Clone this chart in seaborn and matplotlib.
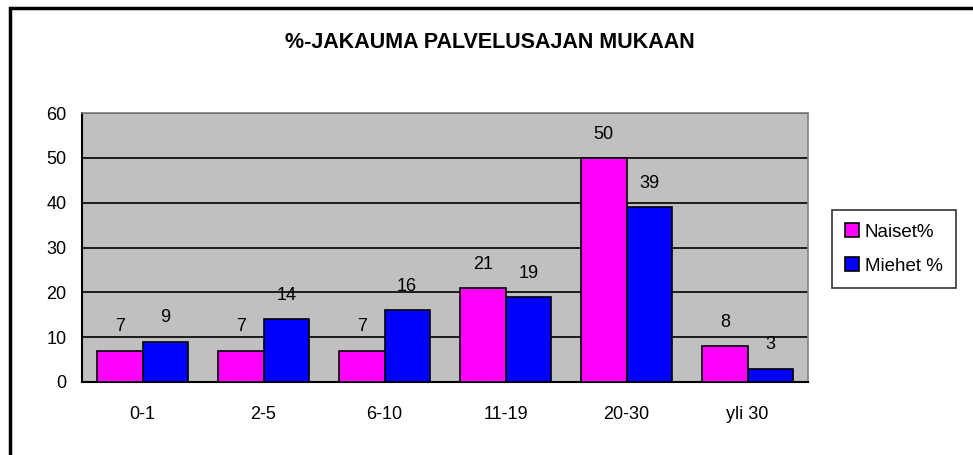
import matplotlib
matplotlib.use("Agg")
import matplotlib.pyplot as plt
import seaborn as sns
import pandas as pd
from matplotlib.patches import Rectangle

categories = ["0-1", "2-5", "6-10", "11-19", "20-30", "yli 30"]
naiset = [7, 7, 7, 21, 50, 8]
miehet = [9, 14, 16, 19, 39, 3]
series_names = ["Naiset%", "Miehet %"]
title = "%-JAKAUMA PALVELUSAJAN MUKAAN"
yticks = [0, 10, 20, 30, 40, 50, 60]

df = pd.DataFrame({
    "cat": categories * 2,
    "val": naiset + miehet,
    "series": [series_names[0]] * len(categories) + [series_names[1]] * len(categories),
})

sns.set_theme(style="white")
plt.rcParams["font.family"] = ["Liberation Sans", "DejaVu Sans"]
plt.rcParams["text.color"] = "black"
plt.rcParams["xtick.color"] = "black"
plt.rcParams["ytick.color"] = "black"

fig = plt.figure(figsize=(9.73, 4.55), dpi=100)
ax = fig.add_axes([82 / 973, 1 - 382 / 455, (808 - 82) / 973, (382 - 113) / 455])

sns.barplot(data=df, x="cat", y="val", hue="series", order=categories,
            hue_order=series_names, palette=["#ff00ff", "#0000ff"],
            width=0.75, edgecolor="black", linewidth=1.2, saturation=1,
            ax=ax, legend=True, zorder=3)

ax.set_facecolor("#c0c0c0")
ax.set_ylim(0, 60)
ax.set_xlim(-0.5, len(categories) - 0.5)
ax.set_yticks(yticks)
ax.yaxis.grid(True, color="black", linewidth=1.2, zorder=1)
ax.set_axisbelow(True)
ax.set_xlabel("")
ax.set_ylabel("")

for c in ax.containers:
    ax.bar_label(c, fmt="%d", padding=11, fontsize=13, color="black")

# category-boundary ticks
ax.set_xticks([i - 0.5 for i in range(len(categories) + 1)], minor=False)
ax.set_xticklabels([])
ax.set_xticks(range(len(categories)), minor=True)
ax.set_xticklabels(categories, minor=True, fontsize=13)
ax.tick_params(axis="x", which="major", direction="inout", length=8, width=1.2, color="black")
ax.tick_params(axis="x", which="minor", length=0, pad=17)
ax.tick_params(axis="y", direction="out", length=5, width=1.2, color="black", labelsize=13, pad=6)

for s in ["left", "bottom"]:
    ax.spines[s].set_color("black")
    ax.spines[s].set_linewidth(1.5)
for s in ["top", "right"]:
    ax.spines[s].set_color("#808080")
    ax.spines[s].set_linewidth(1.2)

leg = ax.legend(loc="upper left", bbox_to_anchor=(832 / 973, 1 - 210 / 455),
                bbox_transform=fig.transFigure, frameon=True, fancybox=False,
                edgecolor="black", fontsize=13.5, handlelength=0.75, handleheight=0.75,
                handletextpad=0.3, borderpad=0.7, labelspacing=0.9, borderaxespad=0)
leg.get_frame().set_linewidth(1.2)

fig.text(490 / 973, 1 - 42 / 455, title, ha="center", va="center",
         fontsize=15.5, fontweight="bold", color="black")

fig.patches.append(Rectangle((10 / 973, -0.1), 1.2, 1 - 8 / 455 + 0.1,
                             transform=fig.transFigure, fill=False,
                             edgecolor="black", linewidth=2.5))

fig.savefig("out.png", dpi=100, facecolor="white")
